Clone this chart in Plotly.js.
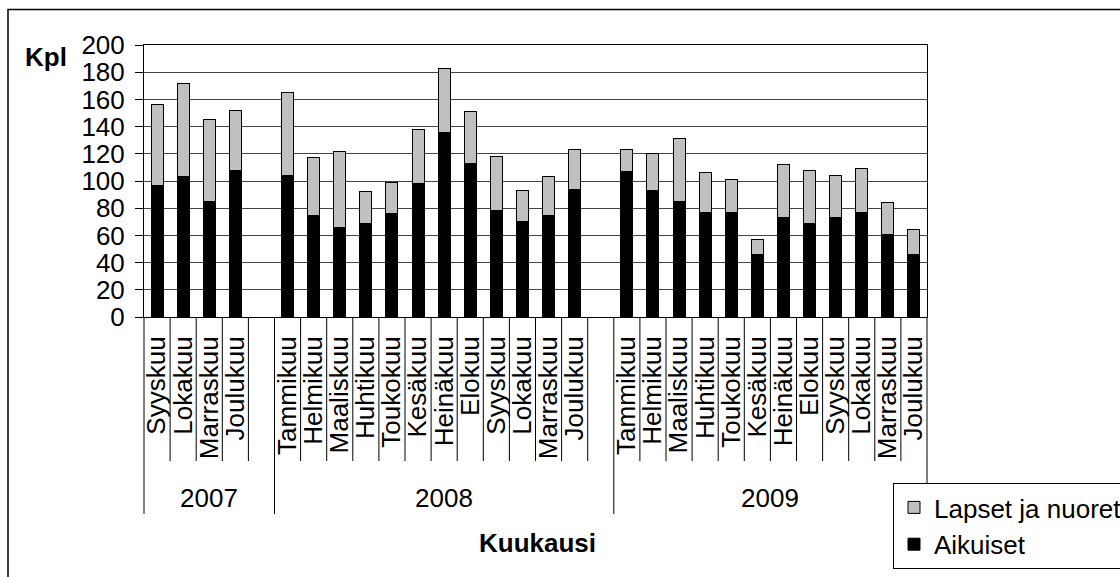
<!DOCTYPE html>
<html>
<head>
<meta charset="utf-8">
<script src="https://cdn.plot.ly/plotly-3.0.1.min.js"></script>
<style>html,body{margin:0;padding:0;background:#fff;}#chart{width:1120px;height:577px;}</style>
</head>
<body>
<div id="chart"></div>
<script>
// ---- data ----
const years = ['2007', '2008', '2009'];
const months2007 = ['Syyskuu', 'Lokakuu', 'Marraskuu', 'Joulukuu'];
const months2008 = ['Tammikuu', 'Helmikuu', 'Maaliskuu', 'Huhtikuu', 'Toukokuu', 'Kesäkuu', 'Heinäkuu', 'Elokuu', 'Syyskuu', 'Lokakuu', 'Marraskuu', 'Joulukuu'];
const months2009 = ['Tammikuu', 'Helmikuu', 'Maaliskuu', 'Huhtikuu', 'Toukokuu', 'Kesäkuu', 'Heinäkuu', 'Elokuu', 'Syyskuu', 'Lokakuu', 'Marraskuu', 'Joulukuu'];
const aikuiset2007 = [97, 103, 85, 108];
const aikuiset2008 = [104, 75, 66, 69, 76, 98, 136, 113, 78, 70, 75, 94];
const aikuiset2009 = [107, 93, 85, 77, 77, 46, 73, 69, 73, 77, 61, 46];
const lapset2007 = [59, 69, 60, 44];
const lapset2008 = [61, 42, 56, 23, 23, 40, 47, 38, 40, 23, 28, 29];
const lapset2009 = [16, 27, 46, 29, 24, 11, 39, 39, 31, 32, 23, 18];
const yTicks = [0, 20, 40, 60, 80, 100, 120, 140, 160, 180, 200];

// ---- build category slots (an empty slot follows 2007 and 2008) ----
const groups = [
  {year: years[0], months: months2007, a: aikuiset2007, l: lapset2007, gap: true},
  {year: years[1], months: months2008, a: aikuiset2008, l: lapset2008, gap: true},
  {year: years[2], months: months2009, a: aikuiset2009, l: lapset2009, gap: false}
];
const cats = [], labels = [], aVals = [], lVals = [], groupSpans = [];
groups.forEach(g => {
  const start = cats.length;
  g.months.forEach((m, i) => {
    cats.push(g.year + '|' + m); labels.push(m);
    aVals.push(g.a[i]); lVals.push(g.l[i]);
  });
  if (g.gap) { cats.push(g.year + '|gap'); labels.push(''); aVals.push(null); lVals.push(null); }
  groupSpans.push({year: g.year, start: start, end: cats.length});
});
const N = cats.length;

// ---- pixel geometry helpers ----
const L = 144, T = 45, W = 783, H = 272;
const px2x = p => (p - L) / W;
const px2y = p => (T + H - p) / H;

const FONT = 'Liberation Sans, Arial, sans-serif';
const FS = 26;

const traces = [
  {type: 'bar', name: 'Aikuiset', x: cats, y: aVals, width: 0.46,
   marker: {color: '#000000', line: {color: '#000000', width: 1}}, hoverinfo: 'skip'},
  {type: 'bar', name: 'Lapset ja nuoret', x: cats, y: lVals, width: 0.46,
   marker: {color: '#C0C0C0', line: {color: '#000000', width: 1}}, hoverinfo: 'skip'}
];

// separators under the axis
const shapes = [];
const groupBounds = new Set();
groupSpans.forEach(s => { groupBounds.add(s.start); groupBounds.add(s.end); });
for (let i = 0; i <= N; i++) {
  const isGroup = groupBounds.has(i);
  shapes.push({type: 'line', xref: 'paper', yref: 'paper', x0: i / N, x1: i / N,
    y0: 0, y1: px2y(isGroup ? 514 : 461), line: {color: '#000', width: 1}});
}
// outer chart border
shapes.push({type: 'rect', xref: 'paper', yref: 'paper', x0: px2x(8), x1: px2x(1135),
  y0: px2y(590), y1: px2y(9.5), line: {color: '#000', width: 1.5}, fillcolor: 'rgba(0,0,0,0)'});

const annotations = groupSpans.map(s => ({
  xref: 'paper', yref: 'paper', x: ((s.start + s.end) / 2) / N, y: px2y(498),
  xanchor: 'center', yanchor: 'middle', showarrow: false, text: s.year,
  font: {family: FONT, size: FS, color: '#000'}
}));
annotations.push({xref: 'paper', yref: 'paper', x: px2x(537), y: px2y(543), xanchor: 'center', yanchor: 'middle',
  showarrow: false, text: '<b>Kuukausi</b>', font: {family: FONT, size: FS, color: '#000'}});
annotations.push({xref: 'paper', yref: 'paper', x: px2x(46), y: px2y(57), xanchor: 'center', yanchor: 'middle',
  showarrow: false, text: '<b>Kpl</b>', font: {family: FONT, size: FS, color: '#000'}});

const layout = {
  width: 1120, height: 577,
  margin: {l: L, r: 1120 - L - W, t: T, b: 577 - T - H, pad: 0, autoexpand: false},
  paper_bgcolor: '#fff', plot_bgcolor: '#fff',
  barmode: 'stack',
  showlegend: true,
  font: {family: FONT, size: FS, color: '#000'},
  xaxis: {
    type: 'category', categoryorder: 'array', categoryarray: cats,
    tickmode: 'array', tickvals: cats, ticktext: labels, tickangle: -90,
    range: [-0.5, N - 0.5], ticks: '', showgrid: false, zeroline: false,
    showline: true, linecolor: '#000', linewidth: 1, mirror: true,
    ticklabelstandoff: 8, automargin: false,
    tickfont: {family: FONT, size: FS, color: '#000'}
  },
  yaxis: {
    range: [0, 200], tickmode: 'array', tickvals: yTicks,
    ticks: 'outside', ticklen: 8, tickcolor: '#000', tickwidth: 1,
    showline: true, linecolor: '#000', linewidth: 1, mirror: true,
    showgrid: true, gridcolor: '#444', gridwidth: 1, zeroline: false,
    ticklabelstandoff: 5, automargin: false,
    tickfont: {family: FONT, size: FS, color: '#000'}
  },
  legend: {
    x: px2x(893), y: px2y(483), xanchor: 'left', yanchor: 'top',
    bgcolor: '#fff', bordercolor: '#000', borderwidth: 1,
    traceorder: 'reversed', font: {family: FONT, size: FS, color: '#000'}
  },
  shapes: shapes,
  annotations: annotations
};

Plotly.newPlot('chart', traces, layout, {displayModeBar: false, staticPlot: true});
</script>
</body>
</html>
